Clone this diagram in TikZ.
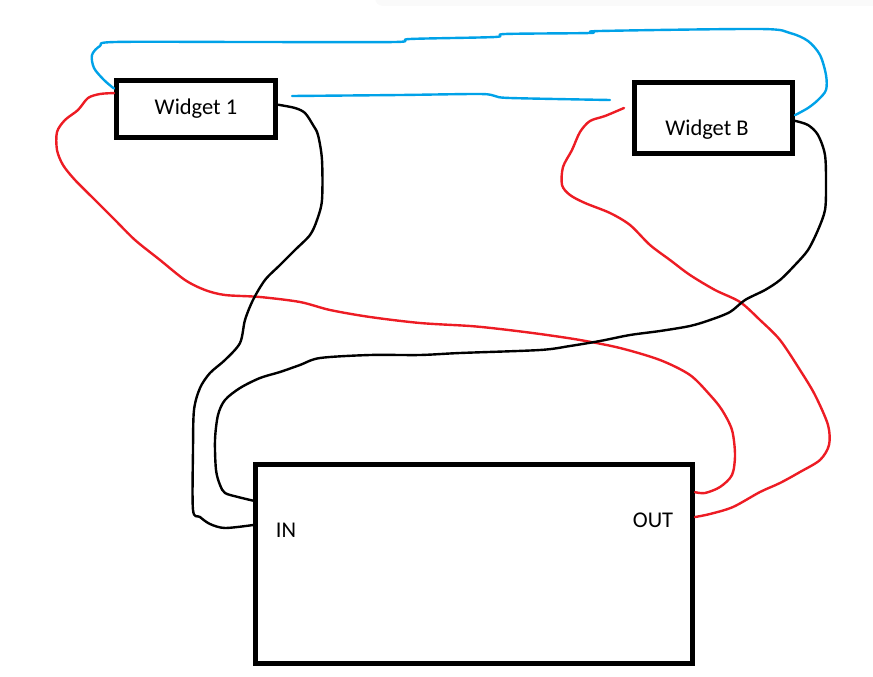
\documentclass[tikz,border=0pt]{standalone}
\usepackage{fontspec}
\setmainfont{Carlito}
\definecolor{paintblue}{RGB}{0,162,232}
\definecolor{paintred}{RGB}{237,28,36}
\begin{document}
\begin{tikzpicture}[x=1pt,y=-1pt,
        box/.style={draw,line width=5pt,inner sep=0pt},
        lbl/.style={font=\fontsize{22.5}{27}\selectfont},
        wire/.style={line width=2.4pt,line cap=round,line join=round}]
                \useasboundingbox (0,0) rectangle (873,677);
                \fill[gray!4,rounded corners=8pt] (375,-12) rectangle (885,6);
                \node[box,lbl,minimum width=159pt,minimum height=57pt] (w1) at (196,109) {Widget 1};
                \node[box,minimum width=158pt,minimum height=71pt] (wb) at (713.5,118) {};
                \node[lbl] (wbtxt) at (707,130) {Widget B};
                \node[box,minimum width=437pt,minimum height=199pt] (big) at (474,564) {};
                \node[lbl] (in) at (286,530) {IN};
                \node[lbl] (out) at (653,520) {OUT};
                \coordinate (b1) at (292,96);
                \coordinate (b2) at (610,100);
                \coordinate (r2) at (624,108);
                \draw[wire,paintblue] plot[smooth,tension=0.5] coordinates {(w1.166) (104,80) (94,68) (92,55) (100,46) (115,42) (250,42) (395,42) (410,39) (495,37) (505,34) (590,33) (600,31) (760,29) (790,33) (808,41) (820,55) (826,75) (826,90) (818,100) (808,108) (wb.2)};
                \draw[wire,paintblue] plot[smooth,tension=0.5] coordinates {(b1) (400,95) (480,94) (495,96) (510,98) (b2)};
                \draw[wire,paintred] plot[smooth,tension=0.5] coordinates {(w1.169) (100,94) (88,98) (78,110) (65,120) (57,132) (57,150) (63,165) (75,180) (95,200) (115,220) (135,240) (160,260) (185,280) (205,290) (225,295) (260,297) (300,302) (330,310) (370,317) (420,323) (470,326) (500,329) (540,334) (580,340) (620,348) (660,360) (690,375) (710,395) (722,410) (732,430) (735,455) (732,475) (720,487) (705,493) (big.18)};
                \draw[wire,paintred] plot[smooth,tension=0.5] coordinates {(r2) (605,116) (590,121) (580,132) (572,150) (563,167) (562,185) (570,195) (585,203) (610,213) (630,225) (650,245) (670,260) (690,275) (715,290) (740,302) (760,320) (780,340) (800,370) (815,395) (828,425) (829,445) (820,460) (800,472) (780,483) (760,492) (733,507) (710,514) (big.12)};
                \draw[wire,black] plot[smooth,tension=0.5] coordinates {(w1.3) (295,108) (305,113) (313,125) (318,135) (322,160) (322,200) (317,220) (310,235) (295,250) (280,265) (265,280) (253,300) (245,320) (240,343) (225,360) (210,373) (200,388) (194,410) (193,450) (193,510) (200,517) (210,524) (225,528) (big.170)};
                \draw[wire,black] plot[smooth,tension=0.5] coordinates {(wb.-2) (808,125) (818,135) (825,155) (826,185) (825,210) (818,230) (808,250) (795,265) (780,280) (765,290) (745,300) (730,312) (710,320) (690,326) (660,331) (630,335) (600,341) (570,346) (540,350) (460,353) (420,355) (370,355) (320,358) (300,365) (280,372) (260,378) (240,388) (225,400) (218,415) (215,440) (216,470) (220,485) (225,493) (238,497) (big.164)};
            \end{tikzpicture}
\end{document}
